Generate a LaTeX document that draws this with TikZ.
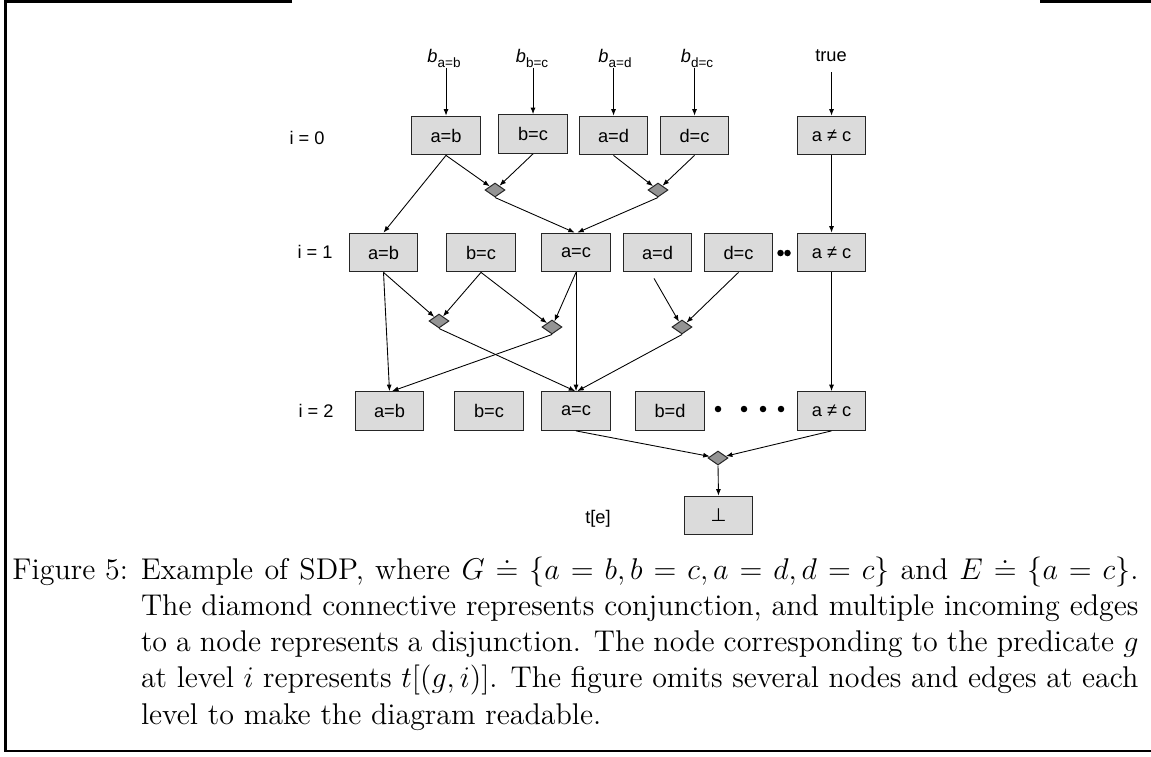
\documentclass[tikz,border=0pt]{standalone}
\usepackage{fontspec}
\usetikzlibrary{shapes.geometric,arrows.meta}
\newfontfamily\lsans{Liberation Sans}
\newfontfamily\dejavu{DejaVu Sans}
\begin{document}
\begin{tikzpicture}[x=0.4pt,y=-0.4pt,
  box/.style={draw=black!85, fill=black!14, line width=0.5pt, minimum width=27.4pt, minimum height=15.4pt, inner sep=0pt, font=\lsans\fontsize{7.3}{8}\selectfont},
  conj/.style={diamond, draw=black!85, fill=black!42, line width=0.4pt, minimum width=8pt, minimum height=5.6pt, inner sep=0pt},
  lbl/.style={font=\lsans\fontsize{7.3}{8}\selectfont, inner sep=0pt},
  arr/.style={-{Latex[length=2.6pt,width=2pt]}, line width=0.35pt},
  dotc/.style={circle, fill=black, inner sep=0pt, minimum size=2.6pt},
  framel/.style={line width=1.1pt}]
\useasboundingbox (0,0) rectangle (1151,756);
% frame
\draw[framel] (292,1.4) -- (5.4,1.4) -- (5.4,751) -- (1151,751);
\draw[framel] (1040,1.4) -- (1151,1.4);
% top labels
\newcommand{\bsub}[1]{{\itshape b}\raisebox{-2pt}{\fontsize{5.4}{6}\selectfont #1}}
\node[lbl] (lab1) at (444,58) {\bsub{a=b}};
\node[lbl] (lab2) at (532,58) {\bsub{b=c}};
\node[lbl] (lab3) at (615,58) {\bsub{a=d}};
\node[lbl] (lab4) at (697,58) {\bsub{d=c}};
\node[lbl] (labT) at (831,56) {true};
% level labels
\node[lbl] (L0) at (307,138) {i = 0};
\node[lbl] (L1) at (315,252) {i = 1};
\node[lbl] (L2) at (316,411) {i = 2};
\node[lbl] (Lt) at (598,519) {t[e]};
% level 0
\node[box] (A0) at (446,135.5) {a=b};
\node[box] (B0) at (533,134) {b=c};
\node[box] (D0a) at (613.5,135.5) {a=d};
\node[box] (D0b) at (694.5,135.5) {d=c};
\node[box] (N0) at (831.5,135.5) {a ≠ c};
% level 1
\node[box] (A1) at (383.5,252.5) {a=b};
\node[box] (B1) at (481,252.5) {b=c};
\node[box] (C1) at (576,252.5) {a=c};
\node[box] (D1) at (657.5,252.5) {a=d};
\node[box] (E1) at (738.5,252.5) {d=c};
\node[box] (N1) at (831.5,252.5) {a ≠ c};
% level 2
\node[box] (A2) at (389.5,411) {a=b};
\node[box] (B2) at (489,411) {b=c};
\node[box] (C2) at (576,411) {a=c};
\node[box] (BD2) at (670,411) {b=d};
\node[box] (N2) at (831.5,411) {a ≠ c};
% bottom
\node[box] (Bot) at (718.5,515.5) {\dejavu ⊥};
% diamonds
\node[conj] (P1) at (495,190) {};
\node[conj] (P2) at (658,190) {};
\node[conj] (P3) at (439,321) {};
\node[conj] (P4) at (552,327) {};
\node[conj] (P5) at (682,327) {};
\node[conj] (P6) at (718,458) {};
% dots
\node[dotc] (d1) at (780.5,253) {};
\node[dotc] (d2) at (787.5,253) {};
\node[dotc] (d3) at (718,409) {};
\node[dotc] (d4) at (744,409) {};
\node[dotc] (d5) at (763,409) {};
\node[dotc] (d6) at (781,409) {};
% arrows from top labels
\draw[arr] (A0.north |- lab1.south) -- (A0.north);
\draw[arr] (B0.north |- lab2.south) -- (B0.north);
\draw[arr] (D0a.north |- lab3.south) -- (D0a.north);
\draw[arr] (D0b.north |- lab4.south) -- (D0b.north);
\draw[arr] ([yshift=-4pt]N0.north |- labT.south) -- (N0.north);
% level 0 -> diamonds / level 1
\draw[arr] (A0.south) -- (P1);
\draw[arr] (B0.south) -- (P1);
\draw[arr] (D0a.south) -- (P2);
\draw[arr] (D0b.south) -- (P2);
\draw[arr] (A0.south) -- (A1.north);
\draw[arr] (P1.south) -- ([xshift=-0.5pt]C1.north);
\draw[arr] (P2.south) -- ([xshift=0.5pt]C1.north);
\draw[arr] (N0.south) -- (N1.north);
% level 1 -> diamonds / level 2
\draw[arr] (A1.south) -- (P3);
\draw[arr] (B1.south) -- (P3);
\draw[arr] (B1.south) -- (P4);
\draw[arr] (C1.south) -- (P4);
\draw[arr] ([xshift=-1.4pt,yshift=-2.4pt]D1.south) -- (P5);
\draw[arr] (E1.south) -- (P5);
\draw[arr] (A1.south) -- (A2.north);
\draw[arr] (P4.south) -- ([xshift=1pt]A2.north);
\draw[arr] (C1.south) -- (C2.north);
\draw[arr] (P3.south) -- ([xshift=-0.3pt]C2.north);
\draw[arr] (P5.south) -- ([xshift=0.5pt]C2.north);
\draw[arr] (N1.south) -- (N2.north);
% level 2 -> final
\draw[arr] (C2.south) -- (P6);
\draw[arr] (N2.south) -- (P6);
\draw[arr] (P6.south) -- (Bot.north);
% caption
\node[anchor=north west, inner sep=0pt] (cap) at (12,556) {\parbox{450.4pt}{\fontsize{12}{14.5}\selectfont
\setbox0\hbox{Figure 5: }\hangindent=\wd0 \hangafter=1 \noindent\box0 Example of SDP, where $G \doteq \{a = b, b = c, a = d, d = c\}$ and $E \doteq \{a = c\}$. The diamond connective represents conjunction, and multiple incoming edges to a node represents a disjunction. The node corresponding to the predicate $g$ at level $i$ represents $t[(g,i)]$. The figure omits several nodes and edges at each level to make the diagram readable.}};
\end{tikzpicture}
\end{document}
